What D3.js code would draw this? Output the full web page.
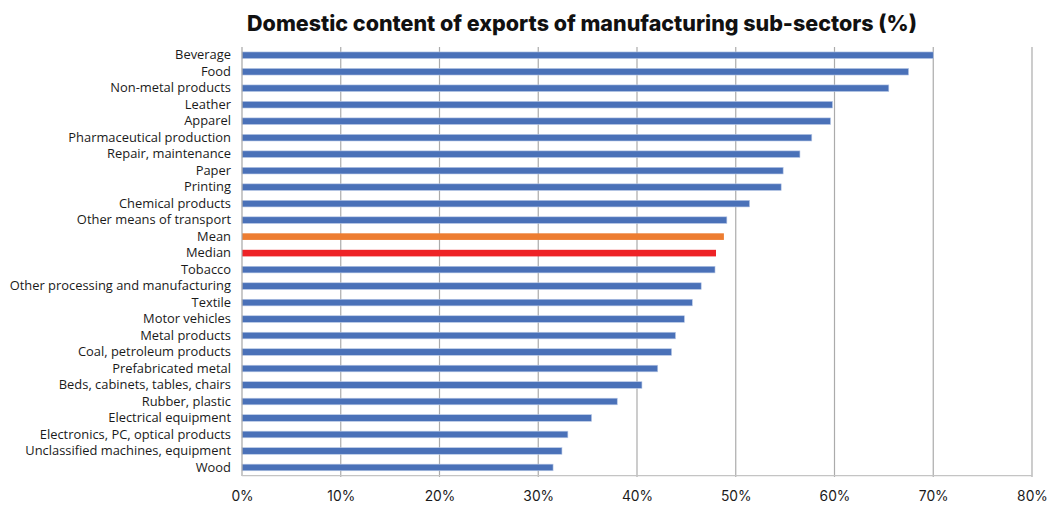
<!DOCTYPE html>
<html>
<head>
<meta charset="utf-8">
<script src="https://cdn.jsdelivr.net/npm/d3@7"></script>
<style>
  html, body { margin: 0; padding: 0; background: #fff; }
  svg { display: block; }
</style>
</head>
<body>
<svg id="chart" width="1047" height="507"></svg>
<script>
// Manufacturing sub-sectors, top to bottom
const categories = [
  "Beverage", "Food", "Non-metal products", "Leather", "Apparel",
  "Pharmaceutical production", "Repair, maintenance", "Paper", "Printing",
  "Chemical products", "Other means of transport", "Mean", "Median",
  "Tobacco", "Other processing and manufacturing", "Textile", "Motor vehicles",
  "Metal products", "Coal, petroleum products", "Prefabricated metal",
  "Beds, cabinets, tables, chairs", "Rubber, plastic", "Electrical equipment",
  "Electronics, PC, optical products", "Unclassified machines, equipment", "Wood"
];
// Domestic content of exports (%)
const values = [
  70.0, 67.5, 65.5, 59.8, 59.6,
  57.7, 56.5, 54.8, 54.6,
  51.4, 49.1, 48.8, 48.0,
  47.9, 46.5, 45.6, 44.8,
  43.9, 43.5, 42.1,
  40.5, 38.0, 35.4,
  33.0, 32.4, 31.5
];
const xTicks = [0, 10, 20, 30, 40, 50, 60, 70, 80];
const title = "Domestic content of exports of manufacturing sub-sectors (%)";

const svg = d3.select("#chart");
const margin = { top: 47, left: 242 };

const x = d3.scaleLinear().domain([0, 80]).range([margin.left, 1032]);
const y = d3.scaleBand().domain(categories).range([margin.top, 475.7]).paddingInner(0.6).paddingOuter(0.3);

const colorFor = c => c === "Mean" ? "#ED7D31" : c === "Median" ? "#EE2326" : "#4A71B8";

// Title
const t = svg.append("text")
  .attr("x", 582).attr("y", 31)
  .attr("text-anchor", "middle")
  .attr("font-family", "Inter, 'Noto Sans', sans-serif")
  .attr("font-weight", 800)
  .attr("font-size", 20)
  .attr("fill", "#111")
  .text(title);
const tw = t.node().getComputedTextLength();
t.attr("font-size", 20 * 670 / tw);

// Vertical gridlines
svg.append("g")
  .selectAll("line")
  .data(xTicks.slice(1))
  .join("line")
  .attr("x1", d => x(d)).attr("x2", d => x(d))
  .attr("y1", margin.top).attr("y2", 477)
  .attr("stroke", "#ababab")
  .attr("stroke-width", 1.2);

// Bars
svg.append("g")
  .selectAll("rect")
  .data(categories.map((c, i) => ({ c, v: values[i] })))
  .join("rect")
  .attr("x", x(0))
  .attr("y", d => y(d.c) + y.bandwidth() / 2 - 3.3)
  .attr("width", d => x(d.v) - x(0))
  .attr("height", 6.6)
  .attr("fill", d => colorFor(d.c))
  .attr("stroke", d => d.c === "Mean" || d.c === "Median" ? "none" : "#b8c8e6")
  .attr("stroke-width", 0.6);

// Axis lines
svg.append("line")
  .attr("x1", x(0)).attr("x2", x(0))
  .attr("y1", margin.top).attr("y2", 476)
  .attr("stroke", "#a6a6a6").attr("stroke-width", 1.2);
svg.append("line")
  .attr("x1", x(0)).attr("x2", x(80))
  .attr("y1", 475.7).attr("y2", 475.7)
  .attr("stroke", "#c4c4c4").attr("stroke-width", 1.2);

// Category labels
const yAxis = d3.axisLeft(y).tickSize(0).tickPadding(11);
const gy = svg.append("g")
  .attr("transform", `translate(${x(0)},0)`)
  .call(yAxis);
gy.select(".domain").remove();
gy.selectAll("text")
  .attr("font-family", "'Open Sans', 'Noto Sans', sans-serif")
  .attr("font-size", 12.9)
  .attr("fill", "#1a1a1a");

// Percentage tick labels
const xAxis = d3.axisBottom(x).tickValues(xTicks).tickFormat(d => d + "%").tickSize(0).tickPadding(15);
const gx = svg.append("g")
  .attr("transform", "translate(0,476)")
  .call(xAxis);
gx.select(".domain").remove();
gx.selectAll("text")
  .attr("font-family", "Inter, 'Noto Sans', sans-serif")
  .attr("font-size", 13.8)
  .attr("fill", "#1a1a1a");
</script>
</body>
</html>
